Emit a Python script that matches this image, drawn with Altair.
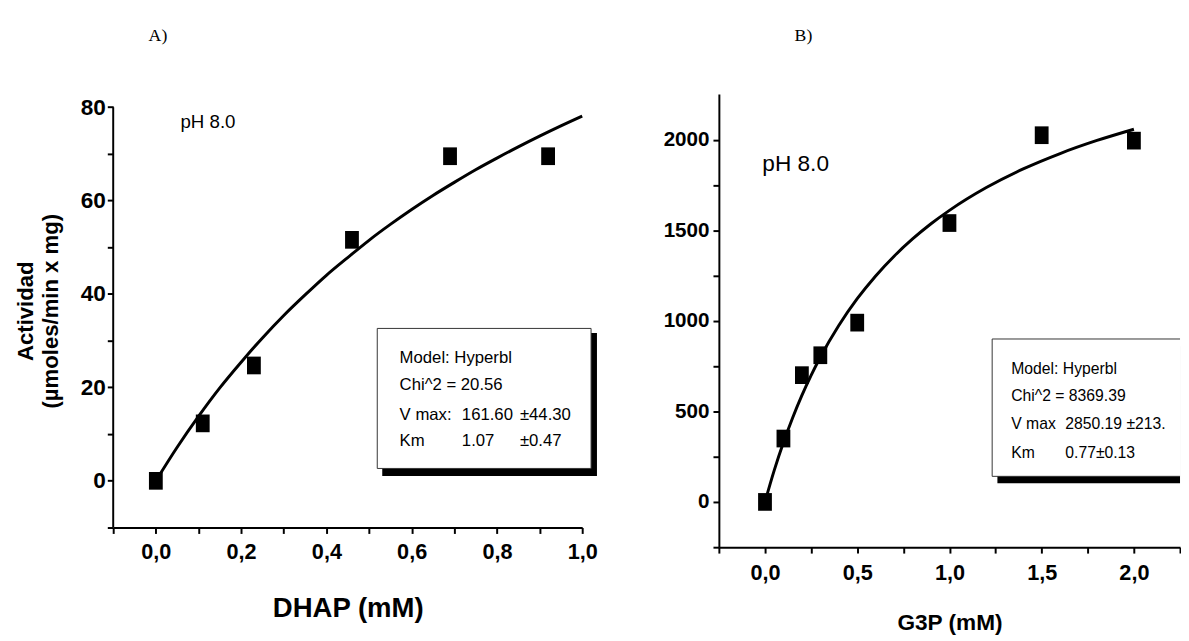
import altair as alt
import pandas as pd

# ---------------- Panel A: DHAP ----------------
dhap_conc = [0.0, 0.11, 0.23, 0.46, 0.69, 0.92]
dhap_act = [0.0, 12.3, 24.7, 51.6, 69.5, 69.5]
dhap_fit_conc = [0.0, 0.05, 0.10, 0.15, 0.20, 0.25, 0.30, 0.35, 0.40, 0.45, 0.50,
                 0.55, 0.60, 0.65, 0.70, 0.75, 0.80, 0.85, 0.90, 0.95, 1.00]
dhap_fit_act = [0.0, 7.2, 13.8, 19.9, 25.4, 30.6, 35.4, 39.8, 44.0, 47.8, 51.5,
                54.9, 58.1, 61.1, 63.9, 66.6, 69.1, 71.5, 73.8, 76.0, 78.1]
dhap_x_ticks = [-0.1, 0.0, 0.1, 0.2, 0.3, 0.4, 0.5, 0.6, 0.7, 0.8, 0.9, 1.0]
dhap_y_ticks = [-10, 0, 10, 20, 30, 40, 50, 60, 70, 80]
dhap_box_lines = [["Model: Hyperbl", "", ""],
                  ["Chi^2 = 20.56", "", ""],
                  ["V max:", "161.60", "±44.30"],
                  ["Km", "1.07", "±0.47"]]

# ---------------- Panel B: G3P ----------------
g3p_conc = [0.0, 0.1, 0.2, 0.3, 0.5, 1.0, 1.5, 2.0]
g3p_act = [0, 350, 700, 810, 990, 1540, 2025, 1995]
g3p_fit_conc = [0.0, 0.05, 0.10, 0.15, 0.20, 0.25, 0.30, 0.40, 0.50, 0.60, 0.70,
                0.80, 0.90, 1.00, 1.20, 1.40, 1.60, 1.80, 2.00]
g3p_fit_act = [0, 174, 328, 465, 588, 699, 799, 974, 1122, 1248, 1357,
               1452, 1536, 1610, 1736, 1839, 1924, 1996, 2058]
g3p_x_ticks = [-0.25, 0.0, 0.25, 0.5, 0.75, 1.0, 1.25, 1.5, 1.75, 2.0, 2.25]
g3p_y_ticks = [-250, 0, 250, 500, 750, 1000, 1250, 1500, 1750, 2000]
g3p_box_lines = [["Model: Hyperbl", ""],
                 ["Chi^2 = 8369.39", ""],
                 ["V max", "2850.19 ±213."],
                 ["Km", "0.77±0.13"]]

ph_label = "pH 8.0"
panel_titles = ["A)", "B)"]
x_titles = ["DHAP (mM)", "G3P (mM)"]
y_title_a = ["Actividad", "(µmoles/min x mg)"]

FONT = "Liberation Sans"
SERIF = "Liberation Serif"
RECT = "M-0.78,-1H0.78V1H-0.78Z"

# ---------------- Panel A chart ----------------
sxA = alt.Scale(domain=[-0.1, 1.0], nice=False, zero=False)
syA = alt.Scale(domain=[-10, 82.84], nice=False, zero=False)

axXA = alt.Axis(values=dhap_x_ticks,
                labelExpr="datum.value > -0.05 && abs(round(datum.value*10)) % 2 == 0 ? replace(format(datum.value, '.1f'), '.', ',') : ''",
                title=x_titles[0], titleFontSize=28, titlePadding=33, labelPadding=8)
axYA = alt.Axis(values=dhap_y_ticks,
                labelExpr="datum.value >= 0 && datum.value % 20 == 0 ? format(datum.value, 'd') : ''",
                title=y_title_a, titleFontSize=22.5, titlePadding=18, labelPadding=2,
                labelFontSize=23, domain=False, titleLineHeight=25)
XA = alt.X("x:Q", scale=sxA, axis=axXA)
YA = alt.Y("y:Q", scale=syA, axis=axYA)

fitA = pd.DataFrame({"x": dhap_fit_conc, "y": dhap_fit_act})
ptsA = pd.DataFrame({"x": dhap_conc, "y": dhap_act})

lineA = alt.Chart(fitA).mark_line(color="black", strokeWidth=3, interpolate="monotone").encode(x=XA, y=YA)
pointsA = alt.Chart(ptsA).mark_point(shape=RECT, filled=True, size=324, color="black", opacity=1).encode(x=XA, y=YA)
ruleA = alt.Chart(pd.DataFrame({"x": [-0.1], "y": [-10], "y2": [80]})).mark_rule(
    color="black", strokeWidth=2).encode(x=XA, y=YA, y2="y2:Q")
shadowA = alt.Chart(pd.DataFrame({"x": [0.531], "x2": [1.0346], "y": [1.05], "y2": [31.64]})).mark_rect(
    color="black").encode(x=XA, x2="x2:Q", y=YA, y2="y2:Q")
boxA = alt.Chart(pd.DataFrame({"x": [0.5193], "x2": [1.0208], "y": [2.65], "y2": [32.63]})).mark_rect(
    fill="white", stroke="#333333", strokeWidth=1).encode(x=XA, x2="x2:Q", y=YA, y2="y2:Q")

colsA = [0.5717, 0.7177, 0.8539]
rowsA = [25.26, 19.49, 13.12, 7.37]
recA = []
for r, line in enumerate(dhap_box_lines):
    for c, t in enumerate(line):
        if t:
            recA.append({"x": colsA[c], "y": rowsA[r], "t": t})
textA = alt.Chart(pd.DataFrame(recA)).mark_text(
    align="left", baseline="alphabetic", font=FONT, fontSize=17, color="black").encode(
    x=XA, y=YA, text="t:N")
phA = alt.Chart(pd.DataFrame({"x": [0.0577], "y": [75.6], "t": [ph_label]})).mark_text(
    align="left", baseline="alphabetic", font=FONT, fontSize=19, color="black").encode(
    x=XA, y=YA, text="t:N")

panelA = alt.layer(lineA, pointsA, ruleA, shadowA, boxA, textA, phA).properties(
    width=477, height=441,
    title=alt.Title(panel_titles[0], anchor="start", frame="group", dx=36, offset=36,
                    font=SERIF, fontSize=18, fontWeight="normal", baseline="alphabetic", color="black"))

# ---------------- Panel B chart ----------------
sxB = alt.Scale(domain=[-0.25, 2.25], nice=False, zero=False)
syB = alt.Scale(domain=[-250, 2253], nice=False, zero=False)

axXB = alt.Axis(values=g3p_x_ticks,
                labelExpr="datum.value > -0.1 && abs(round(datum.value*4)) % 2 == 0 ? replace(format(datum.value, '.1f'), '.', ',') : ''",
                title=x_titles[1], titleFontSize=23, titlePadding=29, labelPadding=10)
axYB = alt.Axis(values=g3p_y_ticks,
                labelExpr="datum.value >= 0 && datum.value % 500 == 0 ? format(datum.value, 'd') : ''",
                title=None, labelPadding=4, labelFontSize=21)
XB = alt.X("x:Q", scale=sxB, axis=axXB)
YB = alt.Y("y:Q", scale=syB, axis=axYB)

fitB = pd.DataFrame({"x": g3p_fit_conc, "y": g3p_fit_act})
ptsB = pd.DataFrame({"x": g3p_conc, "y": g3p_act})

lineB = alt.Chart(fitB).mark_line(color="black", strokeWidth=3, interpolate="monotone").encode(x=XB, y=YB)
pointsB = alt.Chart(ptsB).mark_point(shape=RECT, filled=True, size=324, color="black", opacity=1).encode(x=XB, y=YB)
shadowB = alt.Chart(pd.DataFrame({"x": [1.26], "x2": [2.4], "y": [103.2], "y2": [860]})).mark_rect(
    color="black", clip=True).encode(x=XB, x2="x2:Q", y=YB, y2="y2:Q")
boxB = alt.Chart(pd.DataFrame({"x": [1.2316], "x2": [2.35], "y": [141.2], "y2": [899.7]})).mark_rect(
    fill="white", stroke="#333333", strokeWidth=1, clip=True).encode(x=XB, x2="x2:Q", y=YB, y2="y2:Q")

colsB = [1.335, 1.628]
rowsB = [705.9, 555.5, 401.8, 244.3]
recB = []
for r, line in enumerate(g3p_box_lines):
    for c, t in enumerate(line):
        if t:
            recB.append({"x": colsB[c], "y": rowsB[r], "t": t})
textB = alt.Chart(pd.DataFrame(recB)).mark_text(
    align="left", baseline="alphabetic", font=FONT, fontSize=16, color="black").encode(
    x=XB, y=YB, text="t:N")
phB = alt.Chart(pd.DataFrame({"x": [-0.0144], "y": [1828], "t": [ph_label]})).mark_text(
    align="left", baseline="alphabetic", font=FONT, fontSize=23, color="black").encode(
    x=XB, y=YB, text="t:N")

panelB = alt.layer(lineB, pointsB, shadowB, boxB, textB, phB).properties(
    width=469, height=461,
    title=alt.Title(panel_titles[1], anchor="start", frame="group", dx=77, offset=36,
                    font=SERIF, fontSize=18, fontWeight="normal", baseline="alphabetic", color="black"))

chart = alt.hconcat(panelA, panelB, spacing=66).properties(
    padding={"left": 7, "top": 14, "right": 0, "bottom": 0}
).configure_view(strokeWidth=0).configure_axis(
    domainColor="black", domainWidth=2, tickColor="black", tickWidth=2, tickSize=6,
    labelFont=FONT, labelFontSize=22, labelFontWeight="bold", labelColor="black",
    titleFont=FONT, titleFontWeight="bold", titleColor="black",
    grid=False, labelFlush=False, labelOverlap=False
)

chart.save("out.html", embed_options={"renderer": "svg", "actions": False})
